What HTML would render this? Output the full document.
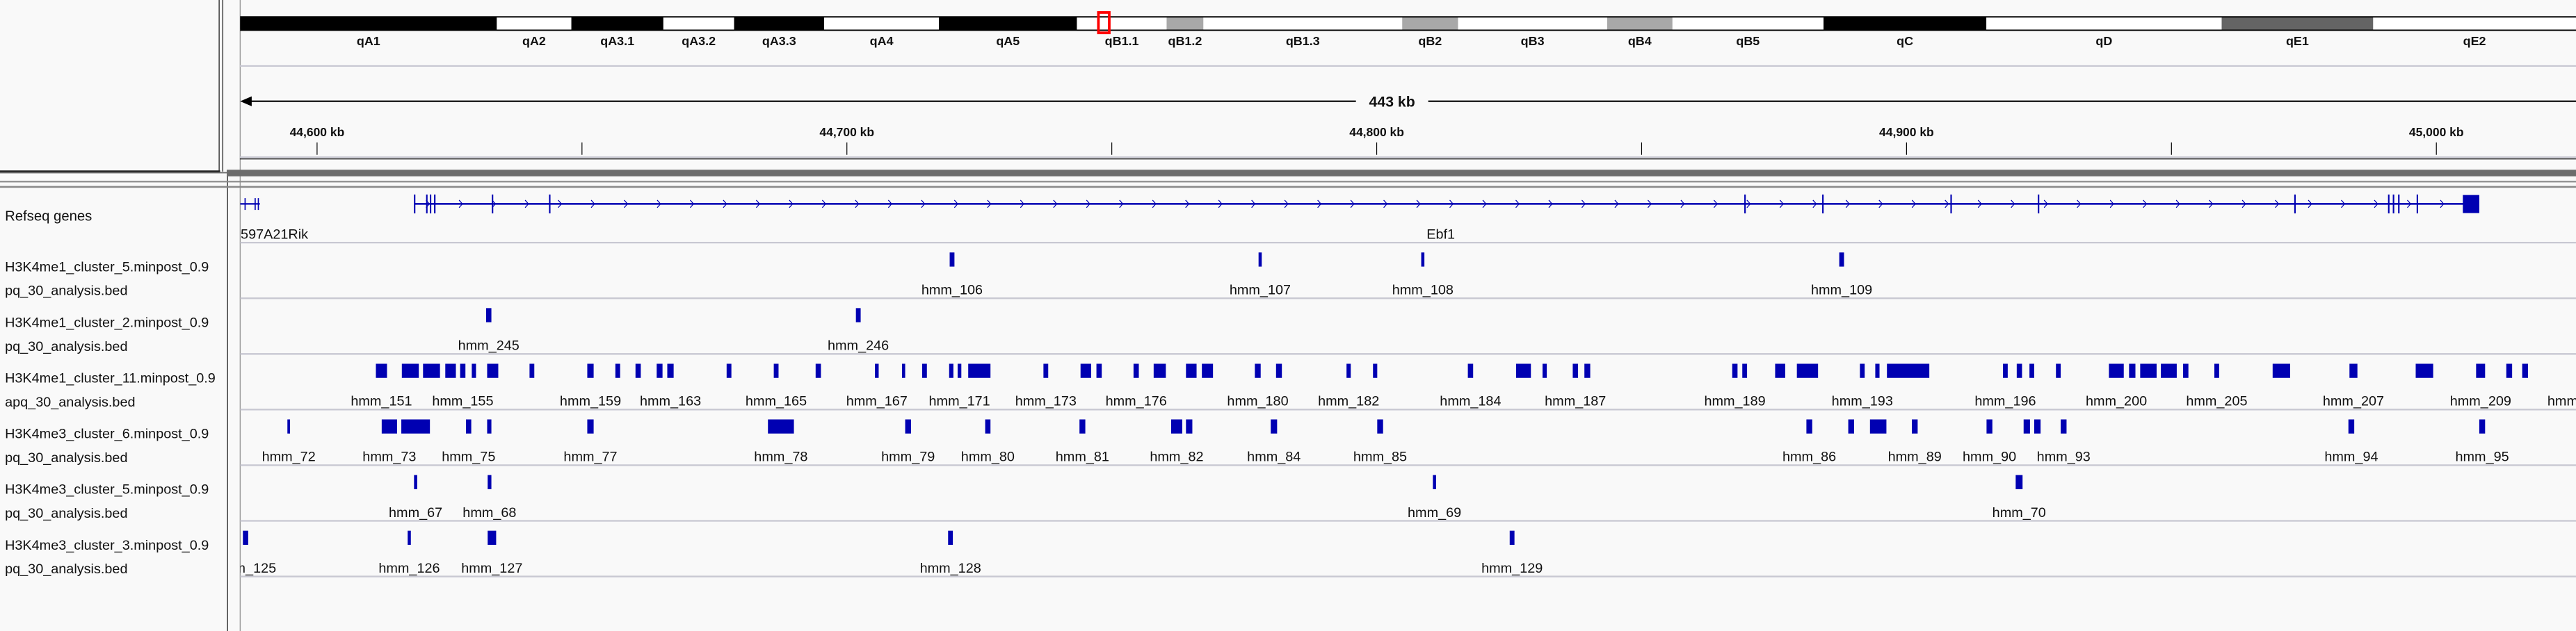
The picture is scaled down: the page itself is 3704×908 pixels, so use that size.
<!DOCTYPE html>
<html><head><meta charset="utf-8">
<style>
html,body{margin:0;padding:0;background:#f9f9f9;}
svg{display:block;font-family:"Liberation Sans",sans-serif;}
</style></head>
<body>
<svg id="igv" width="3704" height="908" viewBox="0 0 1568 384.4" preserveAspectRatio="none" xmlns="http://www.w3.org/2000/svg">
<rect x="0" y="0" width="1568" height="384.4" fill="#f9f9f9"/>
<g id="chrome">
  <line x1="133.4" y1="0" x2="133.4" y2="104.5" stroke="#333" stroke-width="0.6"/>
  <line x1="135.6" y1="0" x2="135.6" y2="104.5" stroke="#333" stroke-width="0.6"/>
  <line x1="0" y1="104.4" x2="134" y2="104.4" stroke="#222" stroke-width="1.2"/>
  <line x1="138.5" y1="104" x2="138.5" y2="384.4" stroke="#333" stroke-width="0.6"/>
  <line x1="146.2" y1="0" x2="146.2" y2="384.4" stroke="#999" stroke-width="0.6"/>
  <line x1="146" y1="40.2" x2="1568" y2="40.2" stroke="#c8c8d2" stroke-width="0.9"/>
  <line x1="146" y1="95.8" x2="1568" y2="95.8" stroke="#c8c8d2" stroke-width="1"/>
  <line x1="146" y1="96.8" x2="1568" y2="96.8" stroke="#222" stroke-width="0.6"/>
  <rect x="138" y="103.4" width="1430" height="4" fill="#6c6c6c"/>
  <rect x="0" y="104.8" width="146" height="0.8" fill="#6c6c6c"/>
  <rect x="0" y="110.2" width="1568" height="0.9" fill="#8a8a8a"/>
  <rect x="0" y="113.3" width="1568" height="1.1" fill="#8a8a8a"/>
</g>
<g id="ideo"></g>
<g id="ruler"></g>
<g id="tracks"></g>
</svg>
<script>
// ---------- DATA ----------
const bandNames = ["qA1","qA2","qA3.1","qA3.2","qA3.3","qA4","qA5","qB1.1","qB1.2","qB1.3","qB2","qB3","qB4","qB5","qC","qD","qE1","qE2"];
const bandEndsMb = [13.4,17.3,22.1,25.8,30.5,36.5,43.7,48.4,50.3,60.7,63.6,71.4,74.8,82.7,91.2,103.5,111.4,122];
const bandStains = ["black","white","black","white","black","white","black","white","gray","white","gray","white","gray","white","black","white","dark","white"];
const chromLengthMb = 122;
const viewStartKb = 44585.4, viewEndKb = 45026.6;
const rulerTicksKb = [44600,44650,44700,44750,44800,44850,44900,44950,45000];
const rulerLabels = ["44,600 kb","","44,700 kb","","44,800 kb","","44,900 kb","","45,000 kb"];
const spanLabel = "443 kb";

const geneExonsKb = [44618.4,44620.7,44621.4,44622.2,44633.1,44643.9,44869.5,44884.2,44908.4,44924.9,44973.3,44991.0,44991.9,44992.9,44996.4];
const geneStartKb = 44618.4, geneEndKb = 45008.1, geneUtrStartKb = 45005.0;
const leftGeneEndKb = 44589.2;
const leftGeneExonsKb = [44586.4,44588.3,44588.9];

const trackNames1 = ["H3K4me1_cluster_5.minpost_0.9","H3K4me1_cluster_2.minpost_0.9","H3K4me1_cluster_11.minpost_0.9","H3K4me3_cluster_6.minpost_0.9","H3K4me3_cluster_5.minpost_0.9","H3K4me3_cluster_3.minpost_0.9"];
const trackNames2 = ["pq_30_analysis.bed","pq_30_analysis.bed","apq_30_analysis.bed","pq_30_analysis.bed","pq_30_analysis.bed","pq_30_analysis.bed"];

const t1Starts = [44719.4,44777.7,44808.4,44887.3];
const t1Ends   = [44720.3,44778.3,44809.0,44888.2];
const t1LabelIdx = [0,1,2,3];
const t1Labels = ["hmm_106","hmm_107","hmm_108","hmm_109"];

const t2Starts = [44631.9,44701.7];
const t2Ends   = [44632.9,44702.6];
const t2LabelIdx = [0,1];
const t2Labels = ["hmm_245","hmm_246"];

const t3Starts = [44611.1,44616.0,44620.0,44624.2,44627.0,44629.2,44632.1,44640.1,44651.0,44656.3,44660.1,44664.1,44666.1,44677.3,44686.2,44694.1,44705.3,44710.4,44714.2,44719.3,44720.9,44722.9,44737.1,44744.1,44747.1,44754.1,44757.9,44764.0,44767.0,44777.0,44781.0,44794.3,44799.3,44817.2,44826.3,44831.3,44837.0,44839.2,44867.1,44869.0,44875.2,44879.3,44891.2,44894.1,44896.3,44918.2,44920.8,44923.2,44928.2,44938.2,44942.0,44944.1,44948.0,44952.2,44958.1,44969.1,44983.6,44996.1,45007.5,45013.2,45016.2,45026.5];
const t3Ends   = [44613.2,44619.2,44623.2,44626.2,44628.0,44630.0,44634.2,44641.0,44652.2,44657.2,44661.1,44665.2,44667.3,44678.2,44687.1,44695.1,44706.0,44711.0,44715.1,44720.1,44721.6,44727.1,44738.0,44746.1,44748.1,44755.1,44760.2,44766.0,44769.1,44778.1,44782.1,44795.1,44800.1,44818.2,44829.1,44832.1,44838.0,44840.3,44868.1,44869.9,44877.1,44883.3,44892.1,44894.9,44904.3,44919.1,44921.8,44924.1,44929.1,44941.0,44943.2,44947.2,44951.0,44953.2,44959.0,44972.4,44985.1,44999.4,45009.2,45014.3,45017.3,45027.0];
const t3LabelIdx = [0,4,8,12,14,16,20,22,25,29,31,33,36,38,42,45,49,54,56,58,61];
const t3Labels = ["hmm_151","hmm_155","hmm_159","hmm_163","hmm_165","hmm_167","hmm_171","hmm_173","hmm_176","hmm_180","hmm_182","hmm_184","hmm_187","hmm_189","hmm_193","hmm_196","hmm_200","hmm_205","hmm_207","hmm_209","hmm_210"];

const t4Starts = [44594.4,44612.2,44615.9,44628.1,44632.1,44651.0,44685.1,44711.0,44726.1,44743.9,44761.2,44764.0,44780.0,44800.1,44881.1,44889.0,44893.1,44901.0,44915.1,44922.1,44924.1,44929.1,44983.4,45008.1];
const t4Ends   = [44594.9,44615.1,44621.3,44629.1,44632.9,44652.2,44690.0,44712.1,44727.1,44745.0,44763.3,44765.2,44781.2,44801.2,44882.2,44890.1,44896.2,44902.1,44916.2,44923.3,44925.3,44930.2,44984.5,45009.2];
const t4LabelIdx = [0,1,3,5,6,7,8,9,10,12,13,14,17,18,21,22,23];
const t4Labels = ["hmm_72","hmm_73","hmm_75","hmm_77","hmm_78","hmm_79","hmm_80","hmm_81","hmm_82","hmm_84","hmm_85","hmm_86","hmm_89","hmm_90","hmm_93","hmm_94","hmm_95"];

const t5Starts = [44618.3,44632.2,44810.6,44920.6];
const t5Ends   = [44618.9,44632.9,44811.2,44921.9];
const t5LabelIdx = [0,1,2,3];
const t5Labels = ["hmm_67","hmm_68","hmm_69","hmm_70"];

const t6Starts = [44586.0,44617.1,44632.2,44719.1,44825.1];
const t6Ends   = [44587.0,44617.7,44633.8,44720.0,44826.0];
const t6LabelIdx = [0,1,2,3,4];
const t6Labels = ["hmm_125","hmm_126","hmm_127","hmm_128","hmm_129"];

// ---------- LAYOUT ----------
const NS = "http://www.w3.org/2000/svg";
const PX0 = 146.2, PX1 = 1568;
const xKb = kb => 193 + (kb - 44600) * 3.225;
const xMb = mb => PX0 + mb / chromLengthMb * (PX1 - PX0);
const BLUE = "#0000b2";
function mk(tag, attrs, parent){ const e=document.createElementNS(NS,tag); for(const k in attrs) e.setAttribute(k,attrs[k]); parent.appendChild(e); return e; }
function txt(parent, x, y, s, size, anchor, weight){ const t=mk("text",{x:x,y:y,"font-size":size,"text-anchor":anchor||"start","font-weight":weight||"normal",fill:"#111"},parent); t.textContent=s; return t; }

// clip for data panel
const defs = mk("defs",{},document.getElementById("igv"));
const cp = mk("clipPath",{id:"dataclip"},defs);
mk("rect",{x:PX0,y:0,width:PX1-PX0,height:384.4},cp);
const cpl = mk("clipPath",{id:"nameclip"},defs);
mk("rect",{x:0,y:0,width:133,height:384.4},cpl);

// ---------- IDEOGRAM ----------
const ideo = document.getElementById("ideo");
const IY0 = 9.9, IY1 = 18.8;
mk("rect",{x:PX0,y:IY0,width:PX1-PX0,height:IY1-IY0,fill:"#000"},ideo);
let prev = 0;
bandEndsMb.forEach((end,i)=>{
  const x0 = xMb(prev), x1 = xMb(end);
  const col = bandStains[i]==="black"?"#000":bandStains[i]==="gray"?"#a8a8a8":bandStains[i]==="dark"?"#646464":"#fff";
  const r = mk("rect",{x:x0,y:IY0+0.8,width:x1-x0,height:IY1-IY0-1.6,fill:col},ideo);
  
  
  const t = txt(ideo,(x0+x1)/2,27.5,bandNames[i],7.6,"middle","bold");
  
  
  prev = end;
});
mk("line",{x1:PX0,y1:IY0+0.3,x2:PX1,y2:IY0+0.3,stroke:"#000","stroke-width":0.6},ideo);
mk("line",{x1:PX0,y1:IY1-0.3,x2:PX1,y2:IY1-0.3,stroke:"#000","stroke-width":0.6},ideo);
const rb = mk("rect",{x:xMb(viewStartKb/1000)+2.8,y:7.6,width:6.6,height:12.4,fill:"none",stroke:"#f00","stroke-width":1.6},ideo);



// ---------- RULER ----------
const ruler = document.getElementById("ruler");
const ay = 61.7;
const ln = mk("line",{x1:PX0+4,y1:ay,x2:PX1,y2:ay,stroke:"#000","stroke-width":0.9},ruler);


mk("polygon",{points:`${PX0},${ay} ${PX0+7},${ay-3} ${PX0+7},${ay+3}`,fill:"#000"},ruler);
const mid = (xKb(viewStartKb)+xKb(viewEndKb))/2 - 10;
mk("rect",{x:mid-22,y:ay-6,width:44,height:12,fill:"#f9f9f9"},ruler);
const sl = txt(ruler,mid,ay+3.2,spanLabel,9,"middle","bold");


rulerTicksKb.forEach((kb,i)=>{
  const x = xKb(kb);
  const tk = mk("line",{x1:x,y1:86.8,x2:x,y2:94.3,stroke:"#000","stroke-width":0.5},ruler);
  
  
  if(rulerLabels[i]){
    const t = txt(ruler,x,83,rulerLabels[i],7.4,"middle","bold");
    
    
  }
});

// ---------- TRACKS ----------
const tracks = document.getElementById("tracks");
const names = mk("g",{"clip-path":"url(#nameclip)"},tracks);


const data = mk("g",{"clip-path":"url(#dataclip)"},tracks);



// gene track
const rl = txt(names,3,134.5,"Refseq genes",8.6);


const gy = 124.2;
const gg = mk("g",{},data);


mk("line",{x1:xKb(geneStartKb),y1:gy,x2:xKb(geneEndKb),y2:gy,stroke:BLUE,"stroke-width":1.1},gg);
geneExonsKb.forEach(kb=>{
  const e = mk("rect",{x:xKb(kb)-0.4,y:118.5,width:0.9,height:11.5,fill:BLUE},gg);
  
  
});
mk("rect",{x:xKb(geneUtrStartKb),y:118.8,width:xKb(geneEndKb)-xKb(geneUtrStartKb),height:11,fill:BLUE},gg);
mk("rect",{x:xKb(geneUtrStartKb)+1.2,y:120.5,width:xKb(geneEndKb)-xKb(geneUtrStartKb)-1.2,height:7.6,fill:BLUE},gg);
for(let x = xKb(geneStartKb)+8; x < xKb(geneEndKb)-6; x += 20.1){
  mk("polyline",{points:`${x-1},${gy-2.3} ${x+1},${gy} ${x-1},${gy+2.3}`,fill:"none",stroke:BLUE,"stroke-width":0.5},gg);
}
const gl = mk("g",{},data);


mk("line",{x1:PX0,y1:gy,x2:xKb(leftGeneEndKb),y2:gy,stroke:BLUE,"stroke-width":1},gl);
leftGeneExonsKb.forEach(kb=>{ mk("rect",{x:xKb(kb)-0.3,y:120.7,width:0.7,height:7.2,fill:BLUE},gl); });
const g1 = txt(data,146.5,145.5,"597A21Rik",8.4);


const g2 = txt(data,877,145.5,"Ebf1",8.4,"middle");


mk("line",{x1:PX0,y1:147.8,x2:PX1,y2:147.8,stroke:"#c8c8d2","stroke-width":1},data);

const trackData = [[t1Starts,t1Ends,t1LabelIdx,t1Labels],[t2Starts,t2Ends,t2LabelIdx,t2Labels],[t3Starts,t3Ends,t3LabelIdx,t3Labels],[t4Starts,t4Ends,t4LabelIdx,t4Labels],[t5Starts,t5Ends,t5LabelIdx,t5Labels],[t6Starts,t6Ends,t6LabelIdx,t6Labels]];
trackData.forEach((td,ti)=>{
  const top = 147.8 + ti*33.9;
  const n1 = txt(names,3,top+17.5,trackNames1[ti],8.4);
  
  
  const n2 = txt(names,3,top+32,trackNames2[ti],8.4);
  
  
  const g = mk("g",{},data);
  
  
  const [s,e,li,lb] = td;
  s.forEach((st,i)=>{
    const x0 = xKb(st), x1 = xKb(e[i]);
    const r = mk("rect",{x:x0,y:top+6,width:Math.max(x1-x0,1.4),height:8.6,fill:BLUE},g);
    
    
  });
  li.forEach((idx,k)=>{
    const cx = (xKb(s[idx])+xKb(e[idx]))/2;
    const t = txt(g,cx,top+31.5,lb[k],8.4,"middle");
    
    
  });
  mk("line",{x1:PX0,y1:top+33.9,x2:PX1,y2:top+33.9,stroke:"#c8c8d2","stroke-width":1},data);
});
</script>
</body></html>
